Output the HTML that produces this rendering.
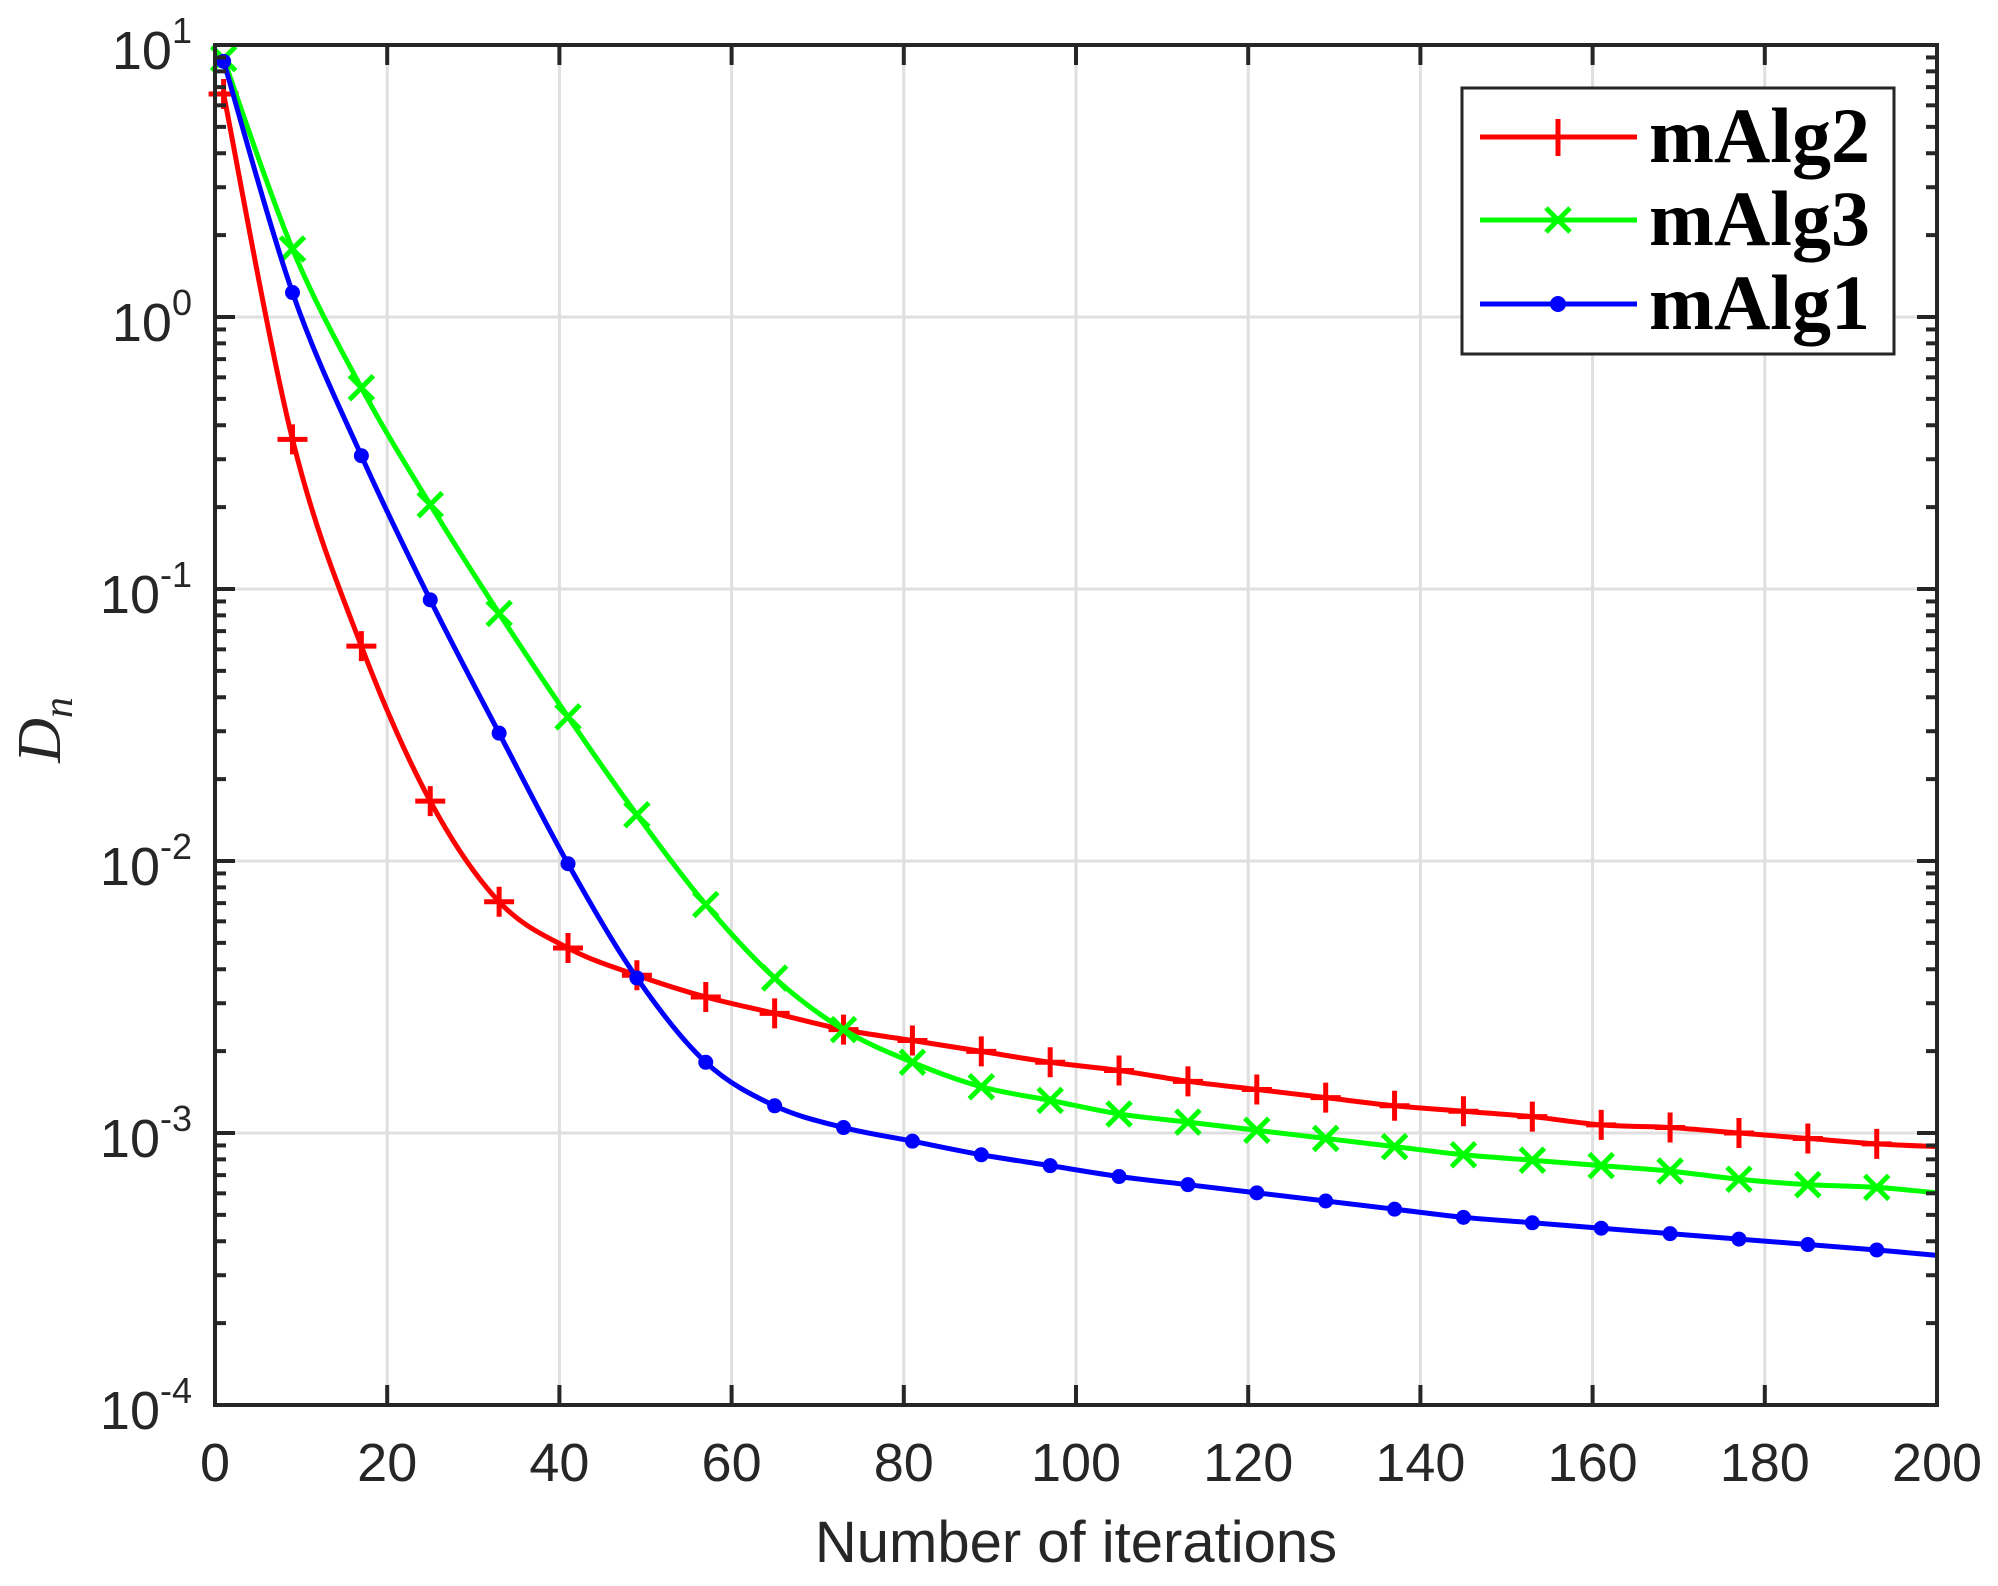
<!DOCTYPE html>
<html><head><meta charset="utf-8"><style>
html,body{margin:0;padding:0;background:#fff;}
svg{display:block;}
</style></head><body>
<svg id="s" width="1998" height="1586" viewBox="0 0 1998 1586" xmlns="http://www.w3.org/2000/svg">
<rect width="1998" height="1586" fill="#fff"/>
<g id="grid"></g>
<g id="series"></g>
<g id="axes"></g>
<text x="1076" y="1562" font-family="Liberation Sans, sans-serif" font-size="58" fill="#262626" text-anchor="middle">Number of iterations</text>
<text transform="translate(60,730) rotate(-90)" font-family="Liberation Serif, serif" font-style="italic" font-size="62" fill="#262626" text-anchor="middle">D<tspan font-size="42" dy="12">n</tspan></text>
<g transform="translate(-9,0)">
<rect x="1471" y="88" width="432" height="266" fill="#fff" stroke="#262626" stroke-width="3"/>
<line x1="1489" y1="137" x2="1646" y2="137" stroke="#f00" stroke-width="5"/>
<line x1="1567" y1="119" x2="1567" y2="156" stroke="#f00" stroke-width="5"/>
<line x1="1489" y1="220" x2="1646" y2="220" stroke="#0f0" stroke-width="5"/>
<path d="M1555 208 L1579 232 M1579 208 L1555 232" stroke="#0f0" stroke-width="5"/>
<line x1="1489" y1="304" x2="1646" y2="304" stroke="#00f" stroke-width="5"/>
<circle cx="1567" cy="304" r="8" fill="#00f"/>
<g font-family="Liberation Serif, serif" font-weight="bold" font-size="78" fill="#000">
<text x="1658" y="162">mAlg2</text>
<text x="1658" y="245">mAlg3</text>
<text x="1658" y="329">mAlg1</text>
</g>
</g>
</svg>
<script>
const L=215,R=1937,T=45,B=1405,NS="http://www.w3.org/2000/svg";
const X=v=>L+(R-L)*v/200, Y=lg=>T+(B-T)*(1-lg)/5;
function el(p,tag,a,txt){const e=document.createElementNS(NS,tag);for(const k in a)e.setAttribute(k,a[k]);if(txt!==undefined)e.textContent=txt;p.appendChild(e);return e;}
const g=document.getElementById('grid'),ax=document.getElementById('axes'),se=document.getElementById('series');
for(let v=20;v<200;v+=20)el(g,'line',{x1:X(v),y1:T,x2:X(v),y2:B,stroke:'#dfdfdf','stroke-width':3});
for(let d=-3;d<=0;d++)el(g,'line',{x1:L,y1:Y(d),x2:R,y2:Y(d),stroke:'#dfdfdf','stroke-width':3});
const data={
r:[[1,.82],[9,-.45],[17,-1.21],[25,-1.78],[33,-2.15],[41,-2.32],[49,-2.42],[57,-2.50],[65,-2.56],[73,-2.62],[81,-2.66],[89,-2.70],[97,-2.74],[105,-2.77],[113,-2.81],[121,-2.84],[129,-2.87],[137,-2.90],[145,-2.92],[153,-2.94],[161,-2.97],[169,-2.98],[177,-3.00],[185,-3.02],[193,-3.04],[200,-3.05]],
g:[[1,.95],[9,.25],[17,-.26],[25,-.69],[33,-1.09],[41,-1.47],[49,-1.83],[57,-2.16],[65,-2.43],[73,-2.62],[81,-2.74],[89,-2.83],[97,-2.88],[105,-2.93],[113,-2.96],[121,-2.99],[129,-3.02],[137,-3.05],[145,-3.08],[153,-3.10],[161,-3.12],[169,-3.14],[177,-3.17],[185,-3.19],[193,-3.20],[200,-3.22]],
b:[[1,.94],[9,.09],[17,-.51],[25,-1.04],[33,-1.53],[41,-2.01],[49,-2.43],[57,-2.74],[65,-2.90],[73,-2.98],[81,-3.03],[89,-3.08],[97,-3.12],[105,-3.16],[113,-3.19],[121,-3.22],[129,-3.25],[137,-3.28],[145,-3.31],[153,-3.33],[161,-3.35],[169,-3.37],[177,-3.39],[185,-3.41],[193,-3.43],[200,-3.45]]};
function path(pts){const P=pts.map(p=>[X(p[0]),Y(p[1])]);let d='M'+P[0].join(' ');
for(let i=0;i<P.length-1;i++){const p0=P[Math.max(0,i-1)],p1=P[i],p2=P[i+1],p3=P[Math.min(P.length-1,i+2)];
d+=` C${p1[0]+(p2[0]-p0[0])/6} ${p1[1]+(p2[1]-p0[1])/6} ${p2[0]-(p3[0]-p1[0])/6} ${p2[1]-(p3[1]-p1[1])/6} ${p2[0]} ${p2[1]}`;}return d;}
const col={r:'#f00',g:'#0f0',b:'#00f'};
for(const k of ['r','g','b']){
el(se,'path',{d:path(data[k]),fill:'none',stroke:col[k],'stroke-width':5});
data[k].slice(0,25).forEach(p=>{const x=X(p[0]),y=Y(p[1]);
if(k=='r')el(se,'path',{d:`M${x-15} ${y}H${x+15}M${x} ${y-15}V${y+15}`,stroke:col[k],'stroke-width':5});
else if(k=='g')el(se,'path',{d:`M${x-12} ${y-12}L${x+12} ${y+12}M${x+12} ${y-12}L${x-12} ${y+12}`,stroke:col[k],'stroke-width':5});
else el(se,'circle',{cx:x,cy:y,r:7.5,fill:col[k]});});}
el(ax,'rect',{x:L,y:T,width:R-L,height:B-T,fill:'none',stroke:'#262626','stroke-width':4});
for(let v=0;v<=200;v+=20){const x=X(v);
el(ax,'line',{x1:x,y1:B,x2:x,y2:B-20,stroke:'#262626','stroke-width':4});
el(ax,'line',{x1:x,y1:T,x2:x,y2:T+20,stroke:'#262626','stroke-width':4});
el(ax,'text',{x:x,y:B+76,'font-family':'Liberation Sans, sans-serif','font-size':54,fill:'#262626','text-anchor':'middle'},String(v));}
for(let d=-4;d<=1;d++){const y=Y(d);
el(ax,'line',{x1:L,y1:y,x2:L+20,y2:y,stroke:'#262626','stroke-width':4});
el(ax,'line',{x1:R,y1:y,x2:R-20,y2:y,stroke:'#262626','stroke-width':4});
const t=el(ax,'text',{x:192,y:y+24,'font-family':'Liberation Sans, sans-serif','font-size':54,fill:'#262626','text-anchor':'end'});
t.textContent='10';el(t,'tspan',{'font-size':36,dy:-26},String(d));
if(d<1)for(let m=2;m<=9;m++){const ym=Y(d+Math.log10(m));
el(ax,'line',{x1:L,y1:ym,x2:L+11,y2:ym,stroke:'#262626','stroke-width':4});
el(ax,'line',{x1:R,y1:ym,x2:R-11,y2:ym,stroke:'#262626','stroke-width':4});}}
</script>
</body></html>
